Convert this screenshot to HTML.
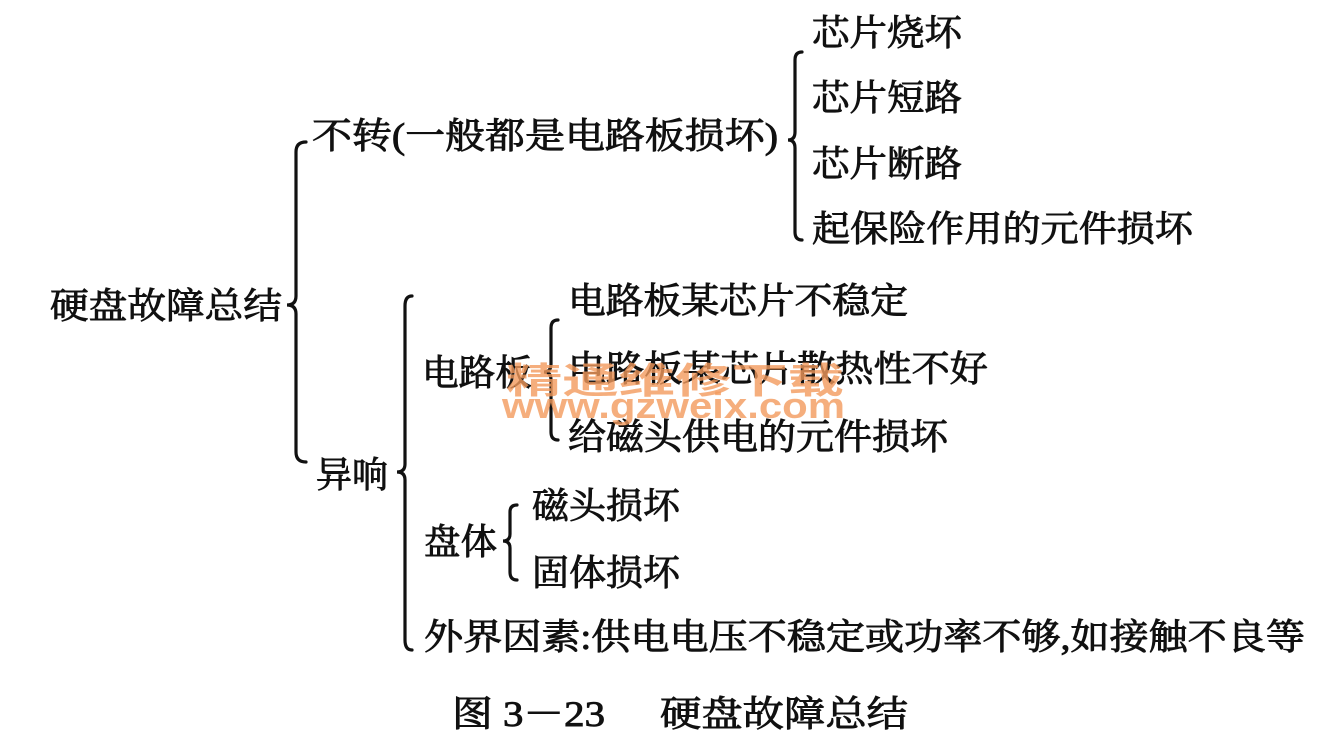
<!DOCTYPE html>
<html><head><meta charset="utf-8"><style>
html,body{margin:0;padding:0;background:#fff}
svg{display:block}
text{font-family:"Liberation Serif","Noto Serif CJK SC","Noto Sans CJK SC",serif;font-size:36px;fill:#111;stroke:#111;stroke-width:0.9px}
.wm{font-family:"Liberation Sans","Noto Sans CJK SC",sans-serif;font-weight:bold;fill:#f39a5c;fill-opacity:0.8;stroke:none}
</style></head><body>
<svg width="1344" height="756" viewBox="0 0 1344 756" xmlns="http://www.w3.org/2000/svg">
<g fill="none" stroke="#111" stroke-width="3.2" stroke-linecap="round">
<path d="M306,142 Q296,142 296,152 L296,296 Q296,305 287,305 Q296,305 296,314 L296,452 Q296,462 306,462"/>
<path d="M802,52 Q795,52 795,60 L795,132 Q795,140 788,140 Q795,140 795,148 L795,232 Q795,240 802,240"/>
<path d="M412,296 Q405,296 405,306 L405,464 Q405,472 397,472 Q405,472 405,480 L405,640 Q405,650 412,650"/>
<path d="M558,320 Q551,320 551,328 L551,364 Q551,372 544,372 Q551,372 551,380 L551,432 Q551,440 558,440"/>
<path d="M517,505 Q510,505 510,512 L510,534 Q510,541 503,541 Q510,541 510,548 L510,572 Q510,580 517,580"/>
</g>
<text x="50" y="318" textLength="232" lengthAdjust="spacingAndGlyphs">硬盘故障总结</text>
<text x="312" y="148" textLength="466" lengthAdjust="spacingAndGlyphs">不转(一般都是电路板损坏)</text>
<text x="812" y="45" textLength="150" lengthAdjust="spacingAndGlyphs">芯片烧坏</text>
<text x="812" y="110" textLength="150" lengthAdjust="spacingAndGlyphs">芯片短路</text>
<text x="812" y="176" textLength="150" lengthAdjust="spacingAndGlyphs">芯片断路</text>
<text x="812" y="241" textLength="381" lengthAdjust="spacingAndGlyphs">起保险作用的元件损坏</text>
<text x="422" y="385" textLength="110" lengthAdjust="spacingAndGlyphs">电路板</text>
<text x="568" y="313" textLength="340" lengthAdjust="spacingAndGlyphs">电路板某芯片不稳定</text>
<text x="568" y="381" textLength="420" lengthAdjust="spacingAndGlyphs">电路板某芯片散热性不好</text>
<text x="568" y="449" textLength="380" lengthAdjust="spacingAndGlyphs">给磁头供电的元件损坏</text>
<text x="316" y="487" textLength="72" lengthAdjust="spacingAndGlyphs">异响</text>
<text x="424" y="554" textLength="73" lengthAdjust="spacingAndGlyphs">盘体</text>
<text x="532" y="518" textLength="148" lengthAdjust="spacingAndGlyphs">磁头损坏</text>
<text x="532" y="585" textLength="148" lengthAdjust="spacingAndGlyphs">固体损坏</text>
<text x="424" y="649" textLength="881" lengthAdjust="spacingAndGlyphs">外界因素:供电电压不稳定或功率不够,如接触不良等</text>
<text x="452" y="726" textLength="153" lengthAdjust="spacingAndGlyphs">图 3－23</text>
<text x="660" y="726" textLength="248" lengthAdjust="spacingAndGlyphs">硬盘故障总结</text>
<text class="wm" x="506" y="393" font-size="54" textLength="338" lengthAdjust="spacingAndGlyphs">精通维修下载</text>
<text class="wm" x="502" y="418" font-size="30" textLength="343" lengthAdjust="spacingAndGlyphs">www.gzweix.com</text>
</svg>
</body></html>
